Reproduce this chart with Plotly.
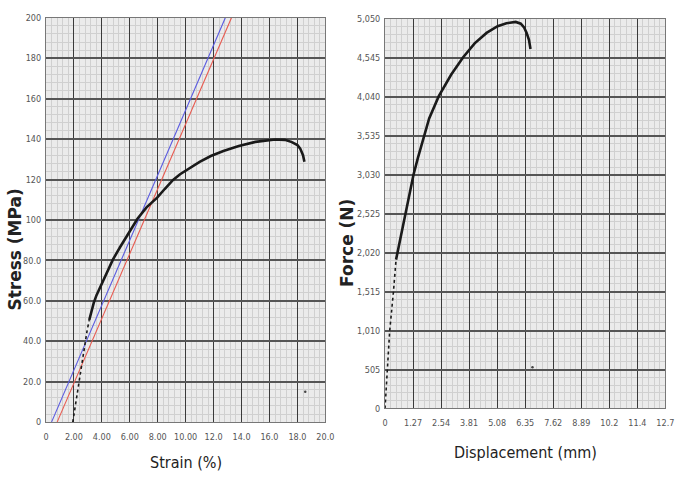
import plotly.graph_objects as go

# ---- Left chart: stress-strain ----
strain_dotted = [1.92, 2.1, 2.37, 2.6, 2.79, 2.95, 3.1]
stress_dotted = [0, 8, 19.9, 31, 40, 45.5, 50.5]
strain_curve = [3.1, 3.25, 3.42, 3.62, 3.85, 4.3, 4.79, 5.3, 5.9, 6.55, 7.2, 7.96, 8.5, 9.1, 9.6, 10.2, 11.0, 11.8, 12.7,
                13.8, 15.0, 16.4, 17.1, 17.6, 18.0, 18.2, 18.4, 18.5]
stress_curve = [50.5, 55, 59, 62.8, 66.3, 73.3, 80.4, 86.5, 93.5, 100.6, 106.2, 111.0, 115.3, 119.8, 122.6, 125.3, 128.7,
                131.6, 134.1, 136.6, 138.6, 139.8, 139.6, 138.5, 137.0, 135.3, 132.0, 128.8]
blue_strain = [0.4, 12.84]
blue_stress = [0, 200]
red_strain = [0.8, 13.28]
red_stress = [0, 200]
stray_left_x = [18.56]
stray_left_y = [15]

strain_ticks = [0, 2, 4, 6, 8, 10, 12, 14, 16, 18, 20]
strain_labels = ["0", "2.00", "4.00", "6.00", "8.00", "10.00", "12.0", "14.0", "16.0", "18.0", "20.0"]
stress_ticks = [0, 20, 40, 60, 80, 100, 120, 140, 160, 180, 200]
stress_labels = ["0", "20.0", "40.0", "60.0", "80.0", "100", "120", "140", "160", "180", "200"]

# ---- Right chart: force-displacement ----
disp_dotted = [0, 0.09, 0.21, 0.38, 0.50]
force_dotted = [0, 491, 999, 1507, 1930]
disp_curve = [0.50, 0.62, 0.76, 0.92, 1.1, 1.29, 1.49, 1.69, 2.0, 2.43, 3.0, 3.54, 4.06, 4.6, 5.10, 5.5, 5.92,
              6.15, 6.3, 6.41, 6.52, 6.59]
force_curve = [1930, 2099, 2310, 2531, 2790, 3031, 3250, 3454, 3760, 4047, 4330, 4555, 4735, 4870, 4957, 4995, 5012,
               4990, 4940, 4873, 4780, 4661]
stray_right_x = [6.68]
stray_right_y = [533]

disp_ticks = [0, 1.27, 2.54, 3.81, 5.08, 6.35, 7.62, 8.89, 10.16, 11.43, 12.7]
disp_labels = ["0", "1.27", "2.54", "3.81", "5.08", "6.35", "7.62", "8.89", "10.2", "11.4", "12.7"]
force_ticks = [0, 505, 1010, 1515, 2020, 2525, 3030, 3535, 4040, 4545, 5050]
force_labels = ["0", "505", "1,010", "1,515", "2,020", "2,525", "3,030", "3,535", "4,040", "4,545", "5,050"]

fig = go.Figure()
curve = dict(color="#1a1a1a", width=2.6)
dots = dict(color="#1a1a1a", width=1.6, dash="dot")

fig.add_trace(go.Scatter(x=blue_strain, y=blue_stress, mode="lines", line=dict(color="#5a5ae0", width=1.1), xaxis="x", yaxis="y"))
fig.add_trace(go.Scatter(x=red_strain, y=red_stress, mode="lines", line=dict(color="#e85a50", width=1.1), xaxis="x", yaxis="y"))
fig.add_trace(go.Scatter(x=strain_dotted, y=stress_dotted, mode="lines", line=dots, xaxis="x", yaxis="y"))
fig.add_trace(go.Scatter(x=strain_curve, y=stress_curve, mode="lines", line=curve, xaxis="x", yaxis="y"))
fig.add_trace(go.Scatter(x=stray_left_x, y=stray_left_y, mode="markers", marker=dict(color="#444", size=2.5), xaxis="x", yaxis="y"))

fig.add_trace(go.Scatter(x=disp_dotted, y=force_dotted, mode="lines", line=dots, xaxis="x2", yaxis="y2"))
fig.add_trace(go.Scatter(x=disp_curve, y=force_curve, mode="lines", line=curve, xaxis="x2", yaxis="y2"))
fig.add_trace(go.Scatter(x=stray_right_x, y=stray_right_y, mode="markers", marker=dict(color="#444", size=2.5), xaxis="x2", yaxis="y2"))

cond = "Liberation Sans Narrow, DejaVu Sans Condensed, Roboto Condensed, Roboto, Arial"
tickfont = dict(family=cond, size=9, color="#555")
common = dict(showline=True, linecolor="#777", linewidth=1, mirror=True, ticks="", zeroline=False,
              tickfont=tickfont, fixedrange=True)

fig.update_layout(
    width=696, height=482, showlegend=False,
    margin=dict(l=0, r=0, t=0, b=0),
    paper_bgcolor="white", plot_bgcolor="#ebebeb",
    xaxis=dict(common, domain=[0.0628, 0.4713], range=[0, 20], tickvals=strain_ticks, ticktext=strain_labels,
               showgrid=True, gridcolor="#3a3a3a", gridwidth=1, ticklabelstandoff=6,
               minor=dict(dtick=0.4, showgrid=True, gridcolor="#d0d0d0", gridwidth=1), anchor="y"),
    yaxis=dict(common, domain=[0.1162, 0.973], range=[0, 200], tickvals=stress_ticks, ticktext=stress_labels,
               showgrid=True, gridcolor="#555", gridwidth=1.6, ticklabelstandoff=2,
               minor=dict(dtick=4, showgrid=True, gridcolor="#d0d0d0", gridwidth=1), anchor="x"),
    xaxis2=dict(common, domain=[0.5585, 0.9684], range=[0, 12.7], tickvals=disp_ticks, ticktext=disp_labels,
                showgrid=True, gridcolor="#3a3a3a", gridwidth=1, ticklabelstandoff=6,
                minor=dict(dtick=0.254, showgrid=True, gridcolor="#d0d0d0", gridwidth=1), anchor="y2"),
    yaxis2=dict(common, domain=[0.1452, 0.9703], range=[0, 5050], tickvals=force_ticks, ticktext=force_labels,
                showgrid=True, gridcolor="#555", gridwidth=1.6, ticklabelstandoff=2,
                minor=dict(dtick=101, showgrid=True, gridcolor="#d0d0d0", gridwidth=1), anchor="x2"),
)

titles = [
    ("Strain (%)", 186, 467, 0, cond, 16),
    ("Displacement (mm)", 532, 457, 0, cond, 16),
    ("<b>Stress (MPa)</b>", 12, 250, -90, "DejaVu Sans", 17),
    ("<b>Force (N)</b>", 350, 243, -90, "DejaVu Sans", 17),
]
for text, px, py, ang, fam, sz in titles:
    fig.add_annotation(text=text, x=px / 696, y=1 - py / 482, xref="paper", yref="paper",
                       xanchor="center", yanchor="middle", showarrow=False, textangle=ang,
                       font=dict(family=fam, size=sz, color="#222"))

fig.write_html("out.html")
